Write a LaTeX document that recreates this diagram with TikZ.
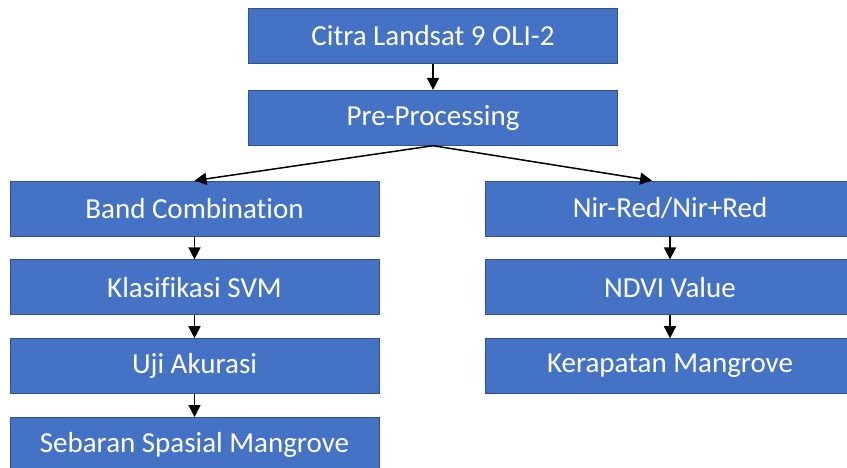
\documentclass[tikz,border=0pt]{standalone}
\usepackage{fontspec}
\setmainfont[Ligatures=CommonOff]{Carlito}
\usetikzlibrary{arrows.meta,positioning}
\definecolor{boxblue}{RGB}{68,114,196}
\definecolor{boxline}{RGB}{47,82,143}

\begin{document}
\begin{tikzpicture}[
  x=1pt, y=1pt,
  node distance=23pt,
  flowbox/.style={
    draw=boxline,
    line width=0.8pt,
    fill=boxblue,
    text=white,
    rectangle,
    inner sep=0pt,
    minimum width=369pt,
    minimum height=55pt,
    font=\fontsize{29}{34}\selectfont
    },
  flowarrow/.style={
    line width=1.5pt,
    -{Triangle[length=12pt,width=12pt]}
  }
]
\useasboundingbox (0,0) rectangle (847,-467);

\node[flowbox] (citra) at (433,-36) {Citra Landsat 9 OLI-2};
\node[flowbox, below=26pt of citra] (pre) {Pre-Processing};

% kiri
\node[flowbox] (band) at (194.5,-208.5) {Band Combination};
\node[flowbox, below=of band] (svm) {Klasifikasi SVM};
\node[flowbox, below=of svm] (uji) {Uji Akurasi};
\node[flowbox, below=of uji] (sebaran) {Sebaran Spasial Mangrove};

% kanan
\node[flowbox] (nir) at (670,-208.5) {Nir-Red/Nir+Red};
\node[flowbox, below=of nir] (ndvi) {NDVI Value};
\node[flowbox, below=of ndvi] (rapat) {Kerapatan Mangrove};

\draw[flowarrow] (citra) -- (pre);
\draw[flowarrow] (pre.south) -- (band.north);
\draw[flowarrow] (pre.south) -- ([xshift=-18pt]nir.north);
\draw[flowarrow] (band) -- (svm);
\draw[flowarrow] (svm) -- (uji);
\draw[flowarrow] (uji) -- (sebaran);
\draw[flowarrow] (nir) -- (ndvi);
\draw[flowarrow] (ndvi) -- (rapat);

\end{tikzpicture}
\end{document}
